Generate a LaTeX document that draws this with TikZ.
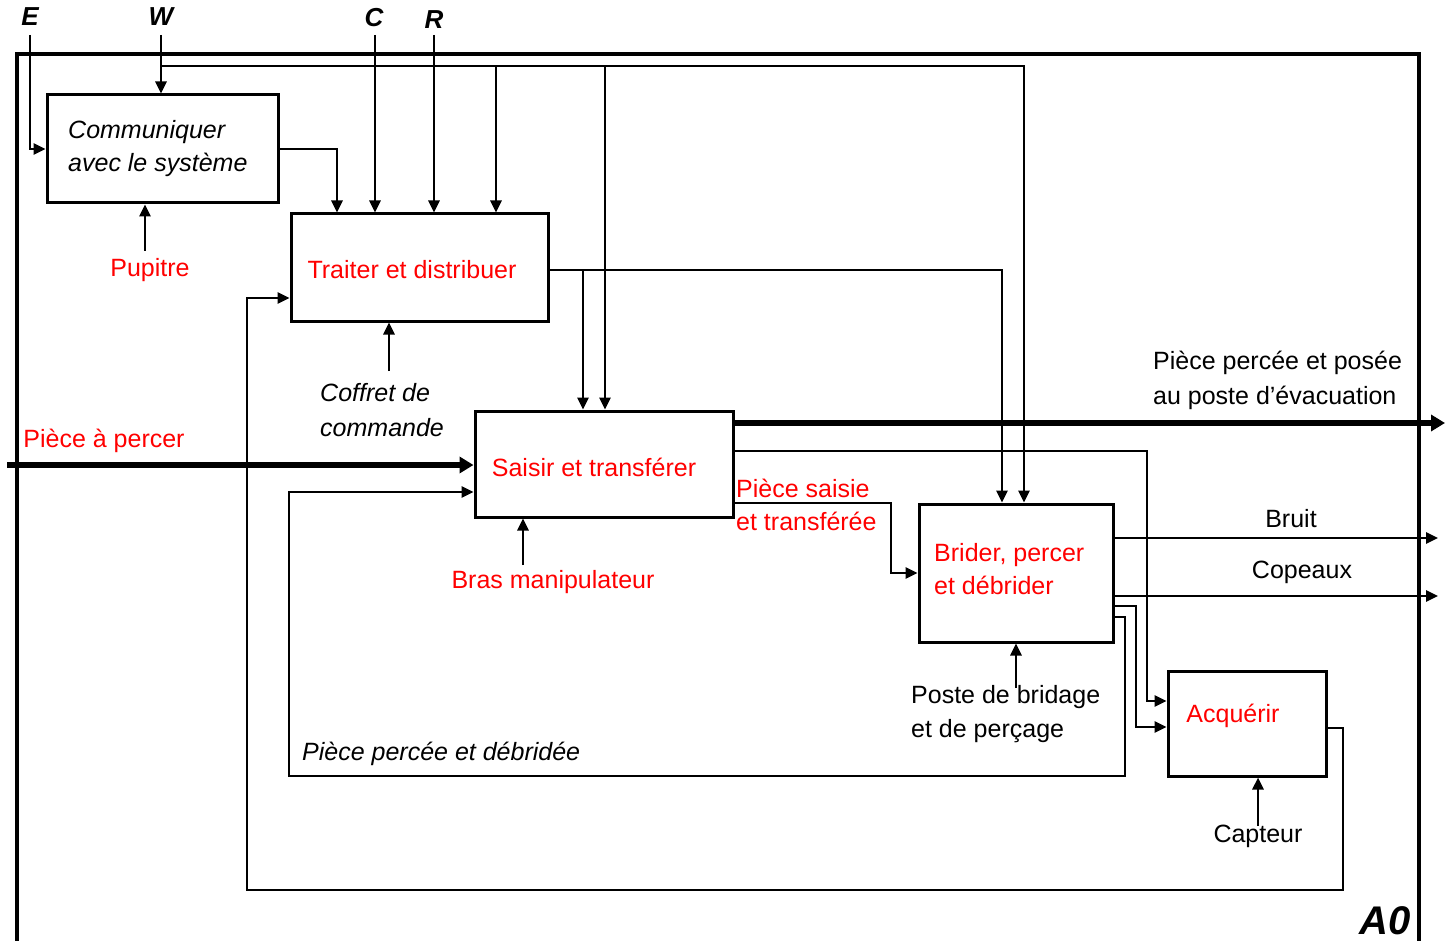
\documentclass[tikz,border=0pt]{standalone}
\usepackage{fontspec}
\setmainfont{Liberation Sans}
\usetikzlibrary{arrows.meta}
\begin{document}
\begin{tikzpicture}[x=1pt,y=-1pt,
  box/.style={draw,line width=3pt,inner sep=0pt},
  conn/.style={line width=2.6pt},
  arr/.style={conn,-{Triangle[length=12pt,width=11pt]}},
  thickarr/.style={line width=6pt,-{Triangle[length=14pt,width=16pt]}},
  txt/.style={font=\fontsize{25}{33}\selectfont,inner sep=0pt,align=left},
  rtxt/.style={txt,text=red},
  itxt/.style={txt,font=\fontsize{25}{33}\selectfont\itshape},
  lbl/.style={inner sep=0pt,font=\fontsize{26}{30}\selectfont\bfseries\itshape}]
\useasboundingbox (0,0) rectangle (1453,941);
\fill[white] (0,0) rectangle (1453,941);
% frame
\draw[line width=3.5pt] (17,960) |- (1419,54) -- (1419,960);
% boxes
\node[box,minimum width=231pt,minimum height=108pt] (comm) at (162.5,149) {};
\node[box,minimum width=257pt,minimum height=107pt] (trait) at (419.5,267.5) {};
\node[box,minimum width=258pt,minimum height=106pt] (saisir) at (604,464) {};
\node[box,minimum width=194pt,minimum height=138pt] (brider) at (1016,573) {};
\node[box,minimum width=158pt,minimum height=105pt] (acq) at (1247,723.5) {};
% box texts
\node[itxt,anchor=west] (commt) at (68,149) {Communiquer\\avec le système};
\node[rtxt] (traitt) at (412,270) {Traiter et distribuer};
\node[rtxt] (saisirt) at (594,467) {Saisir et transférer};
\node[rtxt,anchor=west] (bridert) at (934,569) {Brider, percer\\et débrider};
\node[rtxt] (acqt) at (1233,716) {Acquérir};
% labels
\node[lbl] (E) at (30,17) {E};
\node[lbl] (W) at (161,17) {W};
\node[lbl] (C) at (374,18) {C};
\node[lbl] (R) at (434,20) {R};
\node[inner sep=0pt,font=\fontsize{40}{44}\selectfont\bfseries\itshape] (A0) at (1385,921) {A0};
\node[rtxt] (pup) at (150,270) {Pupitre};
\node[itxt,anchor=west,font=\fontsize{25}{35}\selectfont\itshape] (cof) at (320,410) {Coffret de\\commande};
\node[rtxt] (pap) at (104,441) {Pièce à percer};
\node[rtxt] (bras) at (553,582) {Bras manipulateur};
\node[rtxt,anchor=west] (pst) at (736,505) {Pièce saisie\\et transférée};
\node[txt,anchor=west,font=\fontsize{25}{35}\selectfont] (ppe) at (1153,380) {Pièce percée et posée\\au poste d’évacuation};
\node[txt] (bruit) at (1291,519) {Bruit};
\node[txt] (cop) at (1302,572) {Copeaux};
\node[txt,anchor=west,font=\fontsize{25}{34}\selectfont] (poste) at (911,714) {Poste de bridage\\et de perçage};
\node[itxt,anchor=west] (ppd) at (302,754) {Pièce percée et débridée};
\node[txt] (cap) at (1258,836) {Capteur};
% coordinates
\coordinate (Etop) at (30,35);
\coordinate (Wtop) at (161,35);
\coordinate (Ctop) at (375,35);
\coordinate (Rtop) at (434,35);
\coordinate (wbus) at (161,66);
\coordinate (b1) at (496,66);
\coordinate (b2) at (605,66);
\coordinate (b3) at (583,270);
\coordinate (pupA) at (145,251);
\coordinate (cofA) at (389,371);
\coordinate (pin) at (7,465);
\coordinate (fbA) at (1125,776);
\coordinate (fbB) at (289,492);
\coordinate (pout) at (1445,423);
\coordinate (sa) at (1147,451);
\coordinate (sb) at (891,503);
\coordinate (bruitE) at (1438,538);
\coordinate (copE) at (1438,596);
\coordinate (ba) at (1136,606);
\coordinate (posA) at (1016,688);
\coordinate (brasA) at (523,565);
\coordinate (capA) at (1258,826);
\coordinate (lA) at (1343,890);
\coordinate (lB) at (247,298);
% connectors
\draw[arr] (Etop) |- (comm.west);
\draw[arr] (Wtop) -- (Wtop |- comm.north);
\draw[arr] (wbus) -| ([xshift=8pt]brider.north);
\draw[arr] (b1) -- (b1 |- trait.north);
\draw[arr] (b2) -- (b2 |- saisir.north);
\draw[arr] (Ctop) -- (Ctop |- trait.north);
\draw[arr] (Rtop) -- (Rtop |- trait.north);
\draw[arr] (comm.east) -| ([xshift=-82.5pt]trait.north);
\draw[arr] (pupA) -- (pupA |- comm.south);
\draw[arr] (cofA) -- (cofA |- trait.south);
\draw[arr] ([yshift=-2.5pt]trait.east) -| ([xshift=-14pt]brider.north);
\draw[arr] (b3) -- (b3 |- saisir.north);
\draw[thickarr] (pin) -- (pin -| saisir.west);
\draw[arr] ([yshift=-44pt]brider.east) -| (fbA) -| (fbB) -- (fbB -| saisir.west);
\draw[thickarr] (saisir.east |- pout) -- (pout);
\draw[arr] (saisir.east |- sa) -- (sa) |- ([yshift=22.5pt]acq.west);
\draw[arr] (saisir.east |- sb) -- (sb) |- (brider.west);
\draw[arr] (brider.east |- bruitE) -- (bruitE);
\draw[arr] (brider.east |- copE) -- (copE);
\draw[arr] (brider.east |- ba) -- (ba) |- ([yshift=-3.5pt]acq.west);
\draw[arr] (posA) -- (posA |- brider.south);
\draw[arr] (brasA) -- (brasA |- saisir.south);
\draw[arr] (capA) -- (capA |- acq.south);
\draw[arr] ([yshift=-4.5pt]acq.east) -| (lA) -| (lB) -- (lB -| trait.west);
\end{tikzpicture}
\end{document}
